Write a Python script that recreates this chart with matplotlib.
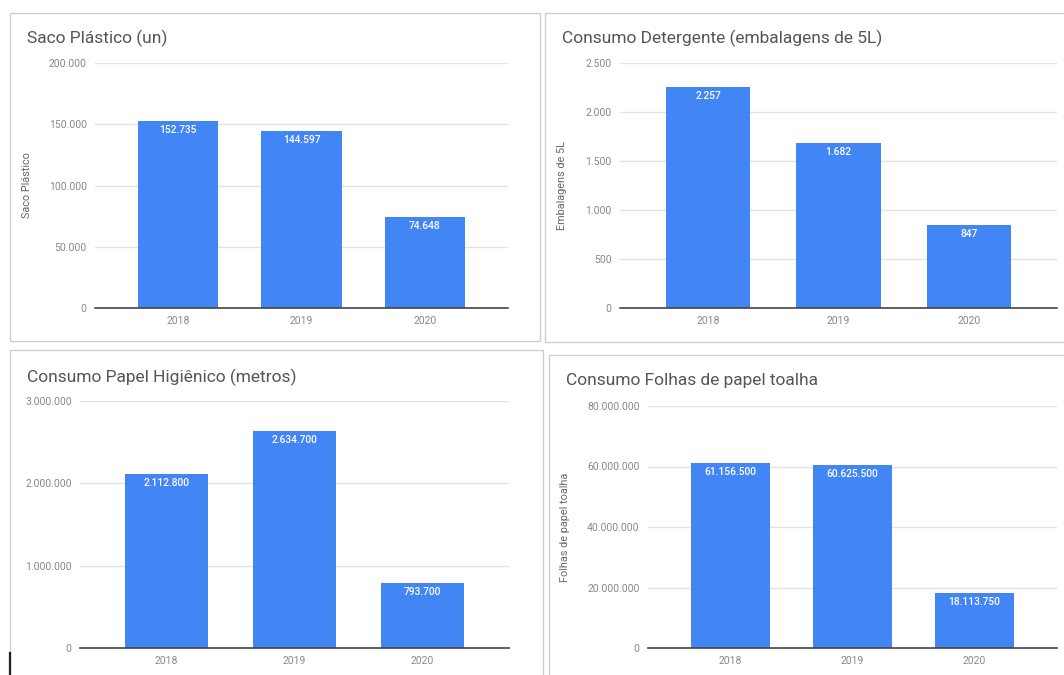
import matplotlib
matplotlib.use("Agg")
import matplotlib.pyplot as plt
from matplotlib.patches import Rectangle
from matplotlib.lines import Line2D

W, H = 1064, 675

years = ["2018", "2019", "2020"]

saco_values = [152735, 144597, 74648]
saco_ticks = [0, 50000, 100000, 150000, 200000]

detergente_values = [2257, 1682, 847]
detergente_ticks = [0, 500, 1000, 1500, 2000, 2500]

papel_hig_values = [2112800, 2634700, 793700]
papel_hig_ticks = [0, 1000000, 2000000, 3000000]

toalha_values = [61156500, 60625500, 18113750]
toalha_ticks = [0, 20000000, 40000000, 60000000, 80000000]

titles = ["Saco Plástico (un)",
          "Consumo Detergente (embalagens de 5L)",
          "Consumo Papel Higiênico (metros)",
          "Consumo Folhas de papel toalha"]
ylabels = ["Saco Plástico", "Embalagens de 5L", None, "Folhas de papel toalha"]

plt.rcParams['font.family'] = ['Roboto', 'DejaVu Sans']

BLUE = "#4285F4"
fig = plt.figure(figsize=(W / 100, H / 100), dpi=100)
fig.patch.set_facecolor("white")


def fmt(v):
    return f"{v:,}".replace(",", ".")


def px_rect(x0, y0, x1, y1):
    return [x0 / W, 1 - y1 / H, (x1 - x0) / W, (y1 - y0) / H]


# panel borders (pixel coords: x0, y0, x1, y1)
borders = [(10, 13, 540, 341), (545, 13, 1070, 342),
           (10, 350, 543, 690), (549, 355, 1070, 690)]
for (x0, y0, x1, y1) in borders:
    fig.patches.append(Rectangle((x0 / W, 1 - y1 / H), (x1 - x0) / W, (y1 - y0) / H,
                                 transform=fig.transFigure, fill=False,
                                 edgecolor="#cfcfcf", linewidth=1.0))
# dark artifact line bottom-left
fig.lines.append(Line2D([10 / W, 10 / W], [1 - 653 / H, 0], transform=fig.transFigure,
                        color="#222222", linewidth=1.6))

panels = [
    (saco_values, saco_ticks, (95, 63, 508, 308), (27, 38), 32),
    (detergente_values, detergente_ticks, (620, 63, 1057, 308), (562, 38), 567),
    (papel_hig_values, papel_hig_ticks, (80, 401, 509, 648), (27, 377), None),
    (toalha_values, toalha_ticks, (648, 406, 1057, 648), (566, 380), 570),
]

for i, (vals, ticks, box, tpos, ylx) in enumerate(panels):
    x0, y0, x1, y1 = box
    ax = fig.add_axes(px_rect(x0, y0, x1, y1))
    xs = list(range(len(years)))
    ax.bar(xs, vals, width=0.65, color=BLUE, zorder=3)
    ax.set_xlim(-0.675, 2.675)
    ax.set_ylim(ticks[0], ticks[-1])
    ax.set_yticks(ticks)
    ax.set_yticklabels([fmt(t) for t in ticks])
    ax.set_xticks(xs)
    ax.set_xticklabels(years)
    ax.tick_params(axis="both", length=0, labelsize=7.5, labelcolor="#888888")
    ax.tick_params(axis="y", pad=6)
    ax.tick_params(axis="x", pad=6)
    for t in ticks[1:]:
        ax.axhline(t, color="#e3e3e3", linewidth=1.0, zorder=1)
    ax.axhline(0, color="#444444", linewidth=1.2, zorder=4, clip_on=False)
    for s in ax.spines.values():
        s.set_visible(False)
    for x, v in zip(xs, vals):
        ax.annotate(fmt(v), (x, v), xytext=(0, -9), textcoords="offset pixels",
                    ha="center", va="center", color="white", fontsize=7.4,
                    fontweight="medium", zorder=5)
    # title
    fig.text(tpos[0] / W, 1 - tpos[1] / H, titles[i], ha="left", va="center",
             fontsize=12.5, color="#555555")
    if ylabels[i] is not None:
        ax.set_ylabel(ylabels[i], fontsize=7.8, color="#666666")
        ax.yaxis.set_label_coords((ylx - x0) / (x1 - x0), 0.5)

fig.savefig("out.png", dpi=100, facecolor="white")
